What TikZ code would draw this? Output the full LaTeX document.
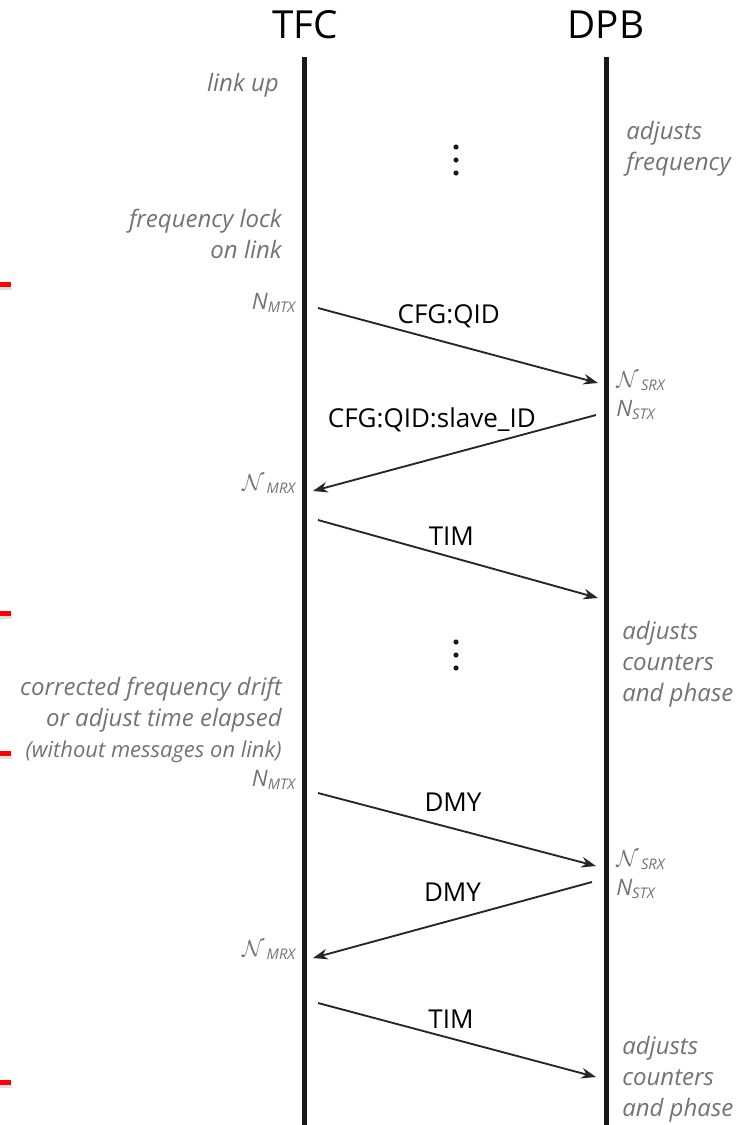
\documentclass[tikz,border=0pt]{standalone}
\usepackage{fontspec}
\setmainfont{Open Sans}
\usetikzlibrary{arrows.meta,positioning}
\definecolor{notegray}{RGB}{115,115,115}
\definecolor{lifeblack}{RGB}{25,25,25}
\tikzset{actor/.style={font=\fontsize{29}{34}\selectfont, inner sep=0pt}}
\tikzset{life/.style={line width=3.8pt, draw=lifeblack}}
\tikzset{msg/.style={-{Stealth[length=11pt,width=8pt]}, line width=1.4pt, draw=black!85}}
\tikzset{msglbl/.style={font=\fontsize{19.5}{22}\selectfont, inner sep=0pt, text depth=0pt}}
\tikzset{note/.style={font=\fontsize{18}{23.3}\selectfont\itshape, text=notegray, inner sep=0pt}}
\tikzset{cnt/.style={font=\fontsize{17}{20}\selectfont\itshape, text=notegray, inner sep=0pt}}
\tikzstyle{dot}=[lifeblack]
\newcommand{\cnt}[2]{#1\textsubscript{\fontsize{11}{11}\selectfont #2}}
\newcommand{\ccnt}[2]{$\mathcal{N}$\textsubscript{\fontsize{11}{11}\selectfont\,#2}}

\begin{document}
\begin{tikzpicture}[x=0.75pt, y=-0.75pt]
\useasboundingbox (0,0) rectangle (738,1125);
% lifelines
\node[actor] (tfc) at (305,25) {TFC};
\node[actor] (dpb) at (606,25) {DPB};
\coordinate (tfcTop) at (304.5,57);
\coordinate (tfcEnd) at (304.5,1125);
\coordinate (dpbTop) at (606.5,57);
\coordinate (dpbEnd) at (606.5,1125);
\draw[life] (tfcTop) -- (tfcEnd);
\draw[life] (dpbTop) -- (dpbEnd);

% first round
\node[note, anchor=north east] (linkup) at (279,73) {link up};
\node[note, anchor=north west, align=left] (adjfreq) at (626,121) {adjusts\\frequency};
\foreach \dy in {147,160,173} \fill[dot] (456,\dy) circle (2.6);
\node[note, anchor=north east, align=right] (flock) at (282,209) {frequency lock\\on link};

\coordinate (m1s) at (318,308);  \coordinate (m1e) at (598,383);
\coordinate (m2s) at (596,415);  \coordinate (m2e) at (313,491);
\coordinate (m3s) at (318,520);  \coordinate (m3e) at (598,598);
\node[cnt, anchor=east] (nmtx1) at (296,303) {\cnt{N}{MTX}};
\node[cnt, anchor=west] (nsrx1) at (616,381) {\ccnt{N}{SRX}};
\node[cnt, anchor=west] (nstx1) at (616,410) {\cnt{N}{STX}};
\node[cnt, anchor=east] (nmrx1) at (296,484) {\ccnt{N}{MRX}};
\draw[msg] (m1s) -- node[msglbl, above=16pt, xshift=-7pt] {CFG:QID} (m1e);
\draw[msg] (m2s) -- node[msglbl, above=18.5pt, xshift=-17pt] {CFG:QID:slave\_ID} (m2e);
\draw[msg] (m3s) -- node[msglbl, above=9.5pt, xshift=-5pt] {TIM} (m3e);

% second round
\node[note, anchor=north west, align=left] (adjcnt1) at (622,621) {adjusts\\counters\\and phase};
\foreach \dy in {642,655,668} \fill[dot] (456,\dy) circle (2.6);
\node[note, anchor=north east, align=right] (drift) at (282,677)
  {corrected frequency drift\\or adjust time elapsed\\{\fontsize{16.5}{14}\selectfont(without messages on link)}};

\coordinate (m4s) at (318,793);  \coordinate (m4e) at (596,866);
\coordinate (m5s) at (592,882);  \coordinate (m5e) at (313,958);
\coordinate (m6s) at (318,1003); \coordinate (m6e) at (596,1077);
\node[cnt, anchor=east] (nmtx2) at (296,780) {\cnt{N}{MTX}};
\node[cnt, anchor=west] (nsrx2) at (616,860) {\ccnt{N}{SRX}};
\node[cnt, anchor=west] (nstx2) at (616,889) {\cnt{N}{STX}};
\node[cnt, anchor=east] (nmrx2) at (296,950) {\ccnt{N}{MRX}};
\draw[msg] (m4s) -- node[msglbl, above=13pt, xshift=-3pt] {DMY} (m4e);
\draw[msg] (m5s) -- node[msglbl, above=13pt] {DMY} (m5e);
\draw[msg] (m6s) -- node[msglbl, above=8pt, xshift=-4.5pt] {TIM} (m6e);
\node[note, anchor=north west, align=left] (adjcnt2) at (622,1036) {adjusts\\counters\\and phase};

% red marks on the left edge
\foreach \ry in {282,611,751,1080} {
  \fill[black!12] (0,\ry+5) rectangle (12,\ry+8);
  \fill[red] (0,\ry) rectangle (11,\ry+5);
}
\end{tikzpicture}
\end{document}
